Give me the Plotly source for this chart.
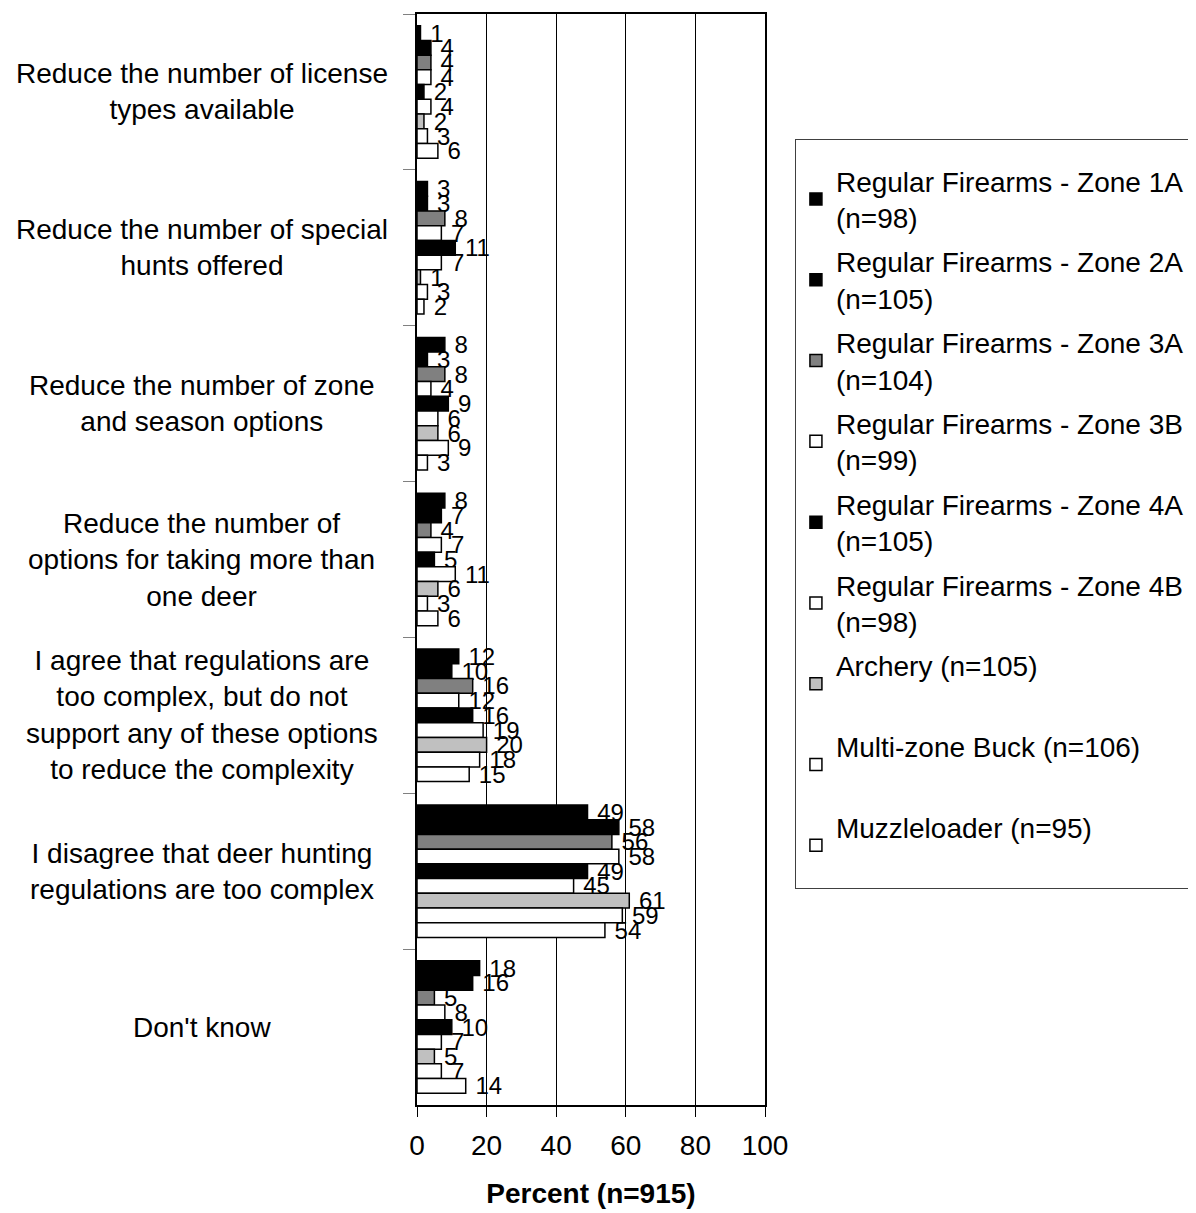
import plotly.graph_objects as go

categories = [
    "Reduce the number of license<br>types available",
    "Reduce the number of special<br>hunts offered",
    "Reduce the number of zone<br>and season options",
    "Reduce the number of<br>options for taking more than<br>one deer",
    "I agree that regulations are<br>too complex, but do not<br>support any of these options<br>to reduce the complexity",
    "I disagree that deer hunting<br>regulations are too complex",
    "Don't know",
]

series_names = [
    "Regular Firearms - Zone 1A<br>(n=98)",
    "Regular Firearms - Zone 2A<br>(n=105)",
    "Regular Firearms - Zone 3A<br>(n=104)",
    "Regular Firearms - Zone 3B<br>(n=99)",
    "Regular Firearms - Zone 4A<br>(n=105)",
    "Regular Firearms - Zone 4B<br>(n=98)",
    "Archery (n=105)<br> ",
    "Multi-zone Buck (n=106)<br> ",
    "Muzzleloader (n=95)<br> ",
]

zone_1a = [1, 3, 8, 8, 12, 49, 18]
zone_2a = [4, 3, 3, 7, 10, 58, 16]
zone_3a = [4, 8, 8, 4, 16, 56, 5]
zone_3b = [4, 7, 4, 7, 12, 58, 8]
zone_4a = [2, 11, 9, 5, 16, 49, 10]
zone_4b = [4, 7, 6, 11, 19, 45, 7]
archery = [2, 1, 6, 6, 20, 61, 5]
multi_zone = [3, 3, 9, 3, 18, 59, 7]
muzzleloader = [6, 2, 3, 6, 15, 54, 14]

series_values = [zone_1a, zone_2a, zone_3a, zone_3b, zone_4a, zone_4b,
                 archery, multi_zone, muzzleloader]
fills = ["#000000", "#000000", "#808080", "#ffffff", "#000000", "#ffffff",
         "#c0c0c0", "#ffffff", "#ffffff"]

x_ticks = [0, 20, 40, 60, 80, 100]

FONT = "Liberation Sans, Arial, sans-serif"

fig = go.Figure()
for name, vals, fill in zip(series_names, series_values, fills):
    fig.add_trace(go.Bar(
        y=categories, x=vals, name=name, orientation="h",
        marker=dict(color=fill, line=dict(color="#000000", width=1.5)),
        texttemplate=" %{x}", textposition="outside",
        textfont=dict(size=24, color="#000000", family=FONT),
        constraintext="none", cliponaxis=False,
        legendgroup=name,
    ))

for cat in categories:
    fig.add_annotation(
        x=-0.618, xref="paper", y=cat, yref="y", text=cat,
        showarrow=False, xanchor="center", yanchor="middle", align="center",
        font=dict(size=28, color="#000000", family=FONT),
    )

fig.update_layout(
    width=1188, height=1205,
    margin=dict(l=409, r=431, t=4, b=108),
    paper_bgcolor="white", plot_bgcolor="white",
    barmode="group", bargap=0.15, bargroupgap=0,
    font=dict(family=FONT, size=28, color="#000000"),
    showlegend=True,
    legend=dict(
        x=1.086, y=0.885, xanchor="left", yanchor="top",
        bordercolor="#404040", borderwidth=1, bgcolor="white",
        font=dict(size=28, family=FONT, color="#000000"),
        traceorder="grouped", tracegroupgap=5,
        title=dict(text=" ", font=dict(size=12)),
    ),
    xaxis=dict(
        range=[0, 100], tickvals=x_ticks, ticktext=[str(t) for t in x_ticks],
        showgrid=True, gridcolor="#000000", gridwidth=1,
        showline=True, linecolor="#000000", linewidth=2, mirror=True,
        ticks="outside", ticklen=10, tickcolor="#000000",
        ticklabelstandoff=4,
        tickfont=dict(size=28, family=FONT),
        title=dict(text="<b>Percent (n=915)</b>", font=dict(size=28, family=FONT), standoff=24),
        zeroline=False,
    ),
    yaxis=dict(
        autorange="reversed", showticklabels=False,
        showline=True, linecolor="#000000", linewidth=2, mirror=True,
        ticks="outside", tickson="boundaries", ticklen=12, tickcolor="#808080",
        showgrid=False,
    ),
)

fig.write_html("out.html")
